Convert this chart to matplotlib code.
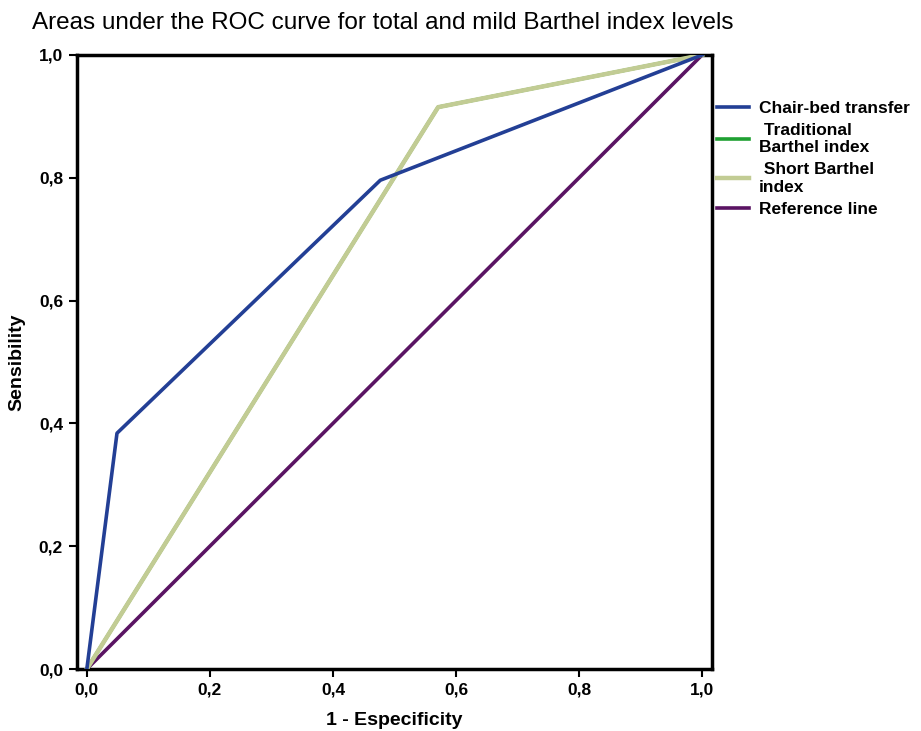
import matplotlib
matplotlib.use("Agg")
import matplotlib.pyplot as plt
from matplotlib.ticker import FuncFormatter

plt.rcParams['font.family'] = ['Liberation Sans', 'DejaVu Sans']

chair_x = [0.0, 0.049, 0.477, 1.0]
chair_y = [0.0, 0.384, 0.796, 1.0]
trad_x = [0.0, 0.571, 1.0]
trad_y = [0.0, 0.915, 1.0]
short_x = [0.0, 0.571, 1.0]
short_y = [0.0, 0.915, 1.0]
ref_x = [0.0, 1.0]
ref_y = [0.0, 1.0]
ticks = [0.0, 0.2, 0.4, 0.6, 0.8, 1.0]

fig = plt.figure(figsize=(9.21, 7.31), dpi=100)
ax = fig.add_axes([0.0836, 0.0848, 0.773 - 0.0836, 0.9248 - 0.0848])

ax.plot(chair_x, chair_y, color='#233f95', lw=2.6, label='Chair-bed transfer', zorder=4)
ax.plot(trad_x, trad_y, color='#1fa032', lw=2.6, label=' Traditional\nBarthel index', zorder=3)
ax.plot(short_x, short_y, color='#c2cc94', lw=3.2, label=' Short Barthel\nindex', zorder=3.5)
ax.plot(ref_x, ref_y, color='#5a1463', lw=2.6, label='Reference line', zorder=2)

ax.set_xlim(-0.016, 1.016)
ax.set_ylim(0.0, 1.0)
ax.set_xticks(ticks)
ax.set_yticks(ticks)
fmt = FuncFormatter(lambda v, p: f"{v:.1f}".replace('.', ','))
ax.xaxis.set_major_formatter(fmt)
ax.yaxis.set_major_formatter(fmt)
for s in ax.spines.values():
    s.set_linewidth(2.5)
ax.tick_params(direction='out', length=6, width=1.5, labelsize=12.5, pad=4)
for lbl in ax.get_xticklabels() + ax.get_yticklabels():
    lbl.set_fontweight('bold')

ax.set_xlabel('1 - Especificity', fontsize=14, fontweight='bold', labelpad=10)
ax.set_ylabel('Sensibility', fontsize=14, fontweight='bold', labelpad=10)
fig.text(0.035, 0.968, 'Areas under the ROC curve for total and mild Barthel index levels',
         fontsize=17.5, ha='left', va='center')

leg = ax.legend(loc='upper left', bbox_to_anchor=(1.006, 0.928), frameon=False,
                prop={'weight': 'bold', 'size': 12.5}, handlelength=1.8,
                handletextpad=0.6, labelspacing=0.4, borderaxespad=0.0,
                borderpad=0.1)

fig.savefig('out.png', dpi=100)
